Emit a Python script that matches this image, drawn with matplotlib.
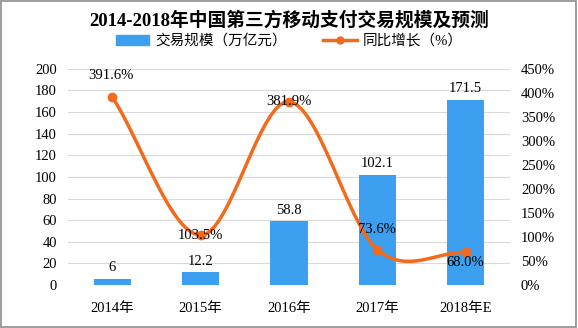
import numpy as np
import matplotlib.pyplot as plt
from matplotlib.patches import Rectangle

plt.rcParams['font.family'] = ['Liberation Serif', 'Noto Sans CJK SC', 'DejaVu Sans']

years = ['2014年', '2015年', '2016年', '2017年', '2018年E']
scale = [6, 12.2, 58.8, 102.1, 171.5]
growth = [391.6, 103.5, 381.9, 73.6, 68.0]
scale_labels = ['6', '12.2', '58.8', '102.1', '171.5']
growth_labels = ['391.6%', '103.5%', '381.9%', '73.6%', '68.0%']

bar_color = '#3d9ff0'
line_color = '#f26a1b'


def smooth(x, y, k=20):
    # catmull-rom style smoothing, similar to the office "smoothed line"
    x = np.asarray(x, float)
    y = np.asarray(y, float)
    px = np.concatenate([[2 * x[0] - x[1]], x, [2 * x[-1] - x[-2]]])
    py = np.concatenate([[2 * y[0] - y[1]], y, [2 * y[-1] - y[-2]]])
    xs, ys = [], []
    t = np.linspace(0, 1, k)
    for i in range(1, len(px) - 2):
        p0, p1, p2, p3 = py[i - 1], py[i], py[i + 1], py[i + 2]
        q0, q1, q2, q3 = px[i - 1], px[i], px[i + 1], px[i + 2]
        ys.append(0.5 * (2 * p1 + (-p0 + p2) * t + (2 * p0 - 5 * p1 + 4 * p2 - p3) * t ** 2
                         + (-p0 + 3 * p1 - 3 * p2 + p3) * t ** 3))
        xs.append(0.5 * (2 * q1 + (-q0 + q2) * t + (2 * q0 - 5 * q1 + 4 * q2 - q3) * t ** 2
                         + (-q0 + 3 * q1 - 3 * q2 + q3) * t ** 3))
    return np.concatenate(xs), np.concatenate(ys)


fig = plt.figure(figsize=(5.78, 3.28), dpi=100)
fig.patches.append(Rectangle((0.002, 0.003), 0.995, 0.993, transform=fig.transFigure,
                             fill=False, edgecolor='#8c8c8c', linewidth=1.2))

ax = fig.add_axes([0.118, 0.131, 0.764, 0.659])
ax2 = ax.twinx()

x = np.arange(len(years))
ax.bar(x, scale, width=0.42, color=bar_color, zorder=2)
ax.set_ylim(0, 200)
ax.set_yticks(np.arange(0, 201, 20))
ax.set_xlim(-0.5, len(years) - 0.5)
ax.set_xticks(x)
ax.set_xticklabels(years, fontsize=10.5)
ax.yaxis.grid(True, color='#d9d9d9', linewidth=0.8)
ax.set_axisbelow(True)
ax.tick_params(axis='both', length=0, labelsize=10.5, pad=8)
ax.tick_params(axis='x', pad=12)
for s in ax.spines.values():
    s.set_visible(False)
for s in ax2.spines.values():
    s.set_visible(False)

for xi, v, lab in zip(x, scale, scale_labels):
    ax.text(xi, v + 4, lab, ha='center', va='bottom', fontsize=10.5)

sx, sy = smooth(x, growth)
ax2.plot(sx, sy, color=line_color, linewidth=2.5, zorder=3)
ax2.plot(x, growth, 'o', color=line_color, markersize=6, zorder=4)
ax2.set_ylim(0, 450)
ax2.set_yticks(np.arange(0, 451, 50))
ax2.set_yticklabels([f'{v}%' for v in range(0, 451, 50)])
ax2.tick_params(axis='y', length=0, labelsize=10.5, pad=8)

offsets = [(-0.02, 45), (0, 0), (0, 0), (0, 42), (0, -22)]
for xi, v, lab, (dx, dy) in zip(x, growth, growth_labels, offsets):
    ax2.text(xi + dx, v + dy, lab, ha='center', va='center', fontsize=10.5, zorder=5)

fig.text(0.5, 0.938, '2014-2018年中国第三方移动支付交易规模及预测', ha='center', va='center',
         fontsize=13.5, fontweight='bold')

handles = [Rectangle((0, 0), 1, 1, color=bar_color),
           plt.Line2D([], [], color=line_color, linewidth=2.5, marker='o', markersize=5)]
fig.legend(handles, ['交易规模（万亿元）', '同比增长（%）'], loc='center', ncol=2,
           bbox_to_anchor=(0.5, 0.875), frameon=False, fontsize=10.5,
           handlelength=2.3, columnspacing=2.5, handletextpad=0.4)

fig.savefig('out.png', dpi=100)
